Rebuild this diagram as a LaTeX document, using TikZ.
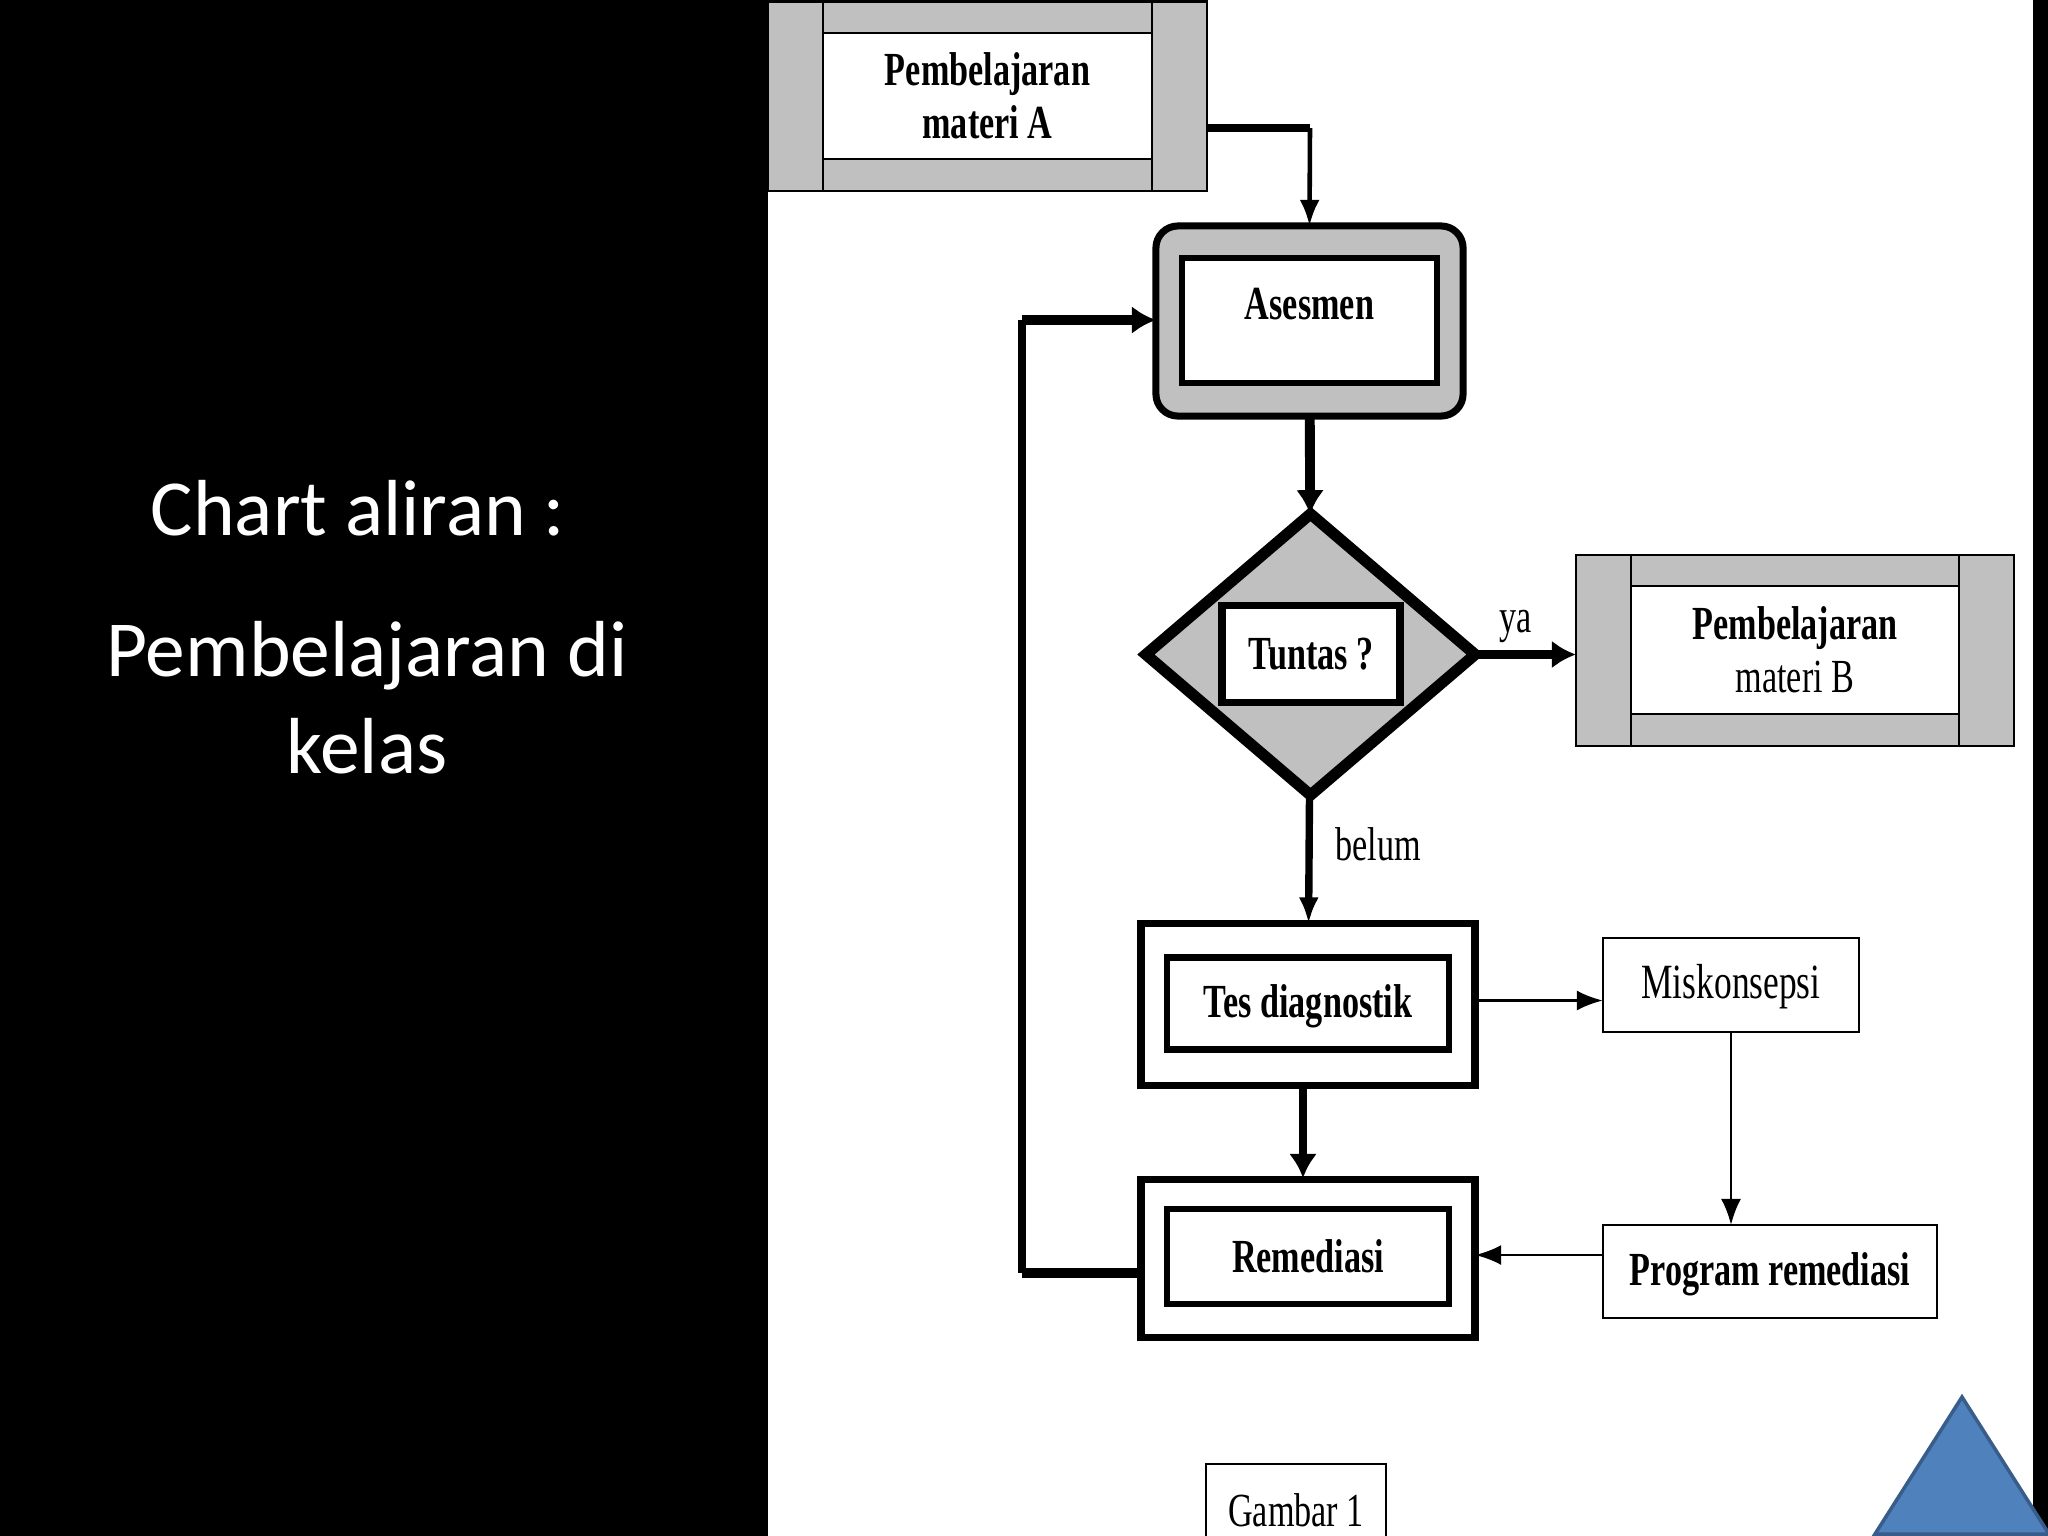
\documentclass[tikz,border=0pt]{standalone}
\usepackage{fontspec}
\setmainfont{Liberation Serif}[FakeStretch=0.72]
\newfontfamily\slidefont{Carlito}
\usetikzlibrary{arrows.meta,positioning,shapes.geometric}
\definecolor{panelgrey}{HTML}{C0C0C0}
\definecolor{triblue}{HTML}{4F81BD}
\definecolor{triedge}{HTML}{385D8A}
\newcommand{\figsize}{\fontsize{13.5}{15}\selectfont}

\begin{document}
\begin{tikzpicture}[x=0.01cm,y=-0.01cm,>={Latex[length=26*0.285pt,width=20*0.285pt]}]
	\tikzset{outerbox/.style={draw=black,fill=panelgrey,line width=0.6pt,inner sep=0pt,outer sep=0pt}}
	\tikzset{whitebox/.style={draw=black,fill=white,inner sep=0pt,outer sep=0pt,align=center,font=\figsize\bfseries}}
	\tikzset{framebox/.style={draw=black,fill=white,line width=2.2pt,outer sep=0pt}}
	\tikzset{plainbox/.style={draw=black,fill=white,line width=0.6pt,inner sep=0pt,outer sep=0pt,font=\figsize}}
	\tikzset{heavyline/.style={line width=2.8pt}}
	\tikzset{midline/.style={line width=2.1pt}}
	\tikzset{thinline/.style={line width=0.8pt}}
	\tikzset{bighead/.style={-{Latex[length=24*0.285pt,width=28*0.285pt]}}}
	\tikzset{slidetext/.style={text=white,font=\slidefont\fontsize{22.6}{27}\selectfont,inner sep=0pt}}
	\useasboundingbox (0,0) rectangle (2048,1536);
	\fill[white] (0,0) rectangle (2048,1536);
	\fill[black] (0,0) rectangle (768,1536);
	\fill[black] (2033,0) rectangle (2048,1536);
	% left side
	\node[slidetext] (chart) at (358,508) {Chart aliran :};
	\node[slidetext] (kelas1) at (367,656) {Pembelajaran di};
	\node[slidetext] (kelas2) at (367,746) {kelas};
	% materi A
	\node[outerbox,minimum width=4.39cm,minimum height=1.89cm] (matAOut) at (987.5,96) {};
	\node[whitebox,line width=0.7pt,minimum width=3.29cm,minimum height=1.26cm] (matA) at (987.5,96) {Pembelajaran\\materi A};
	\draw[thinline,line width=0.6pt] (matA.west |- matAOut.north) -- (matA.west |- matAOut.south);
	\draw[thinline,line width=0.6pt] (matA.east |- matAOut.north) -- (matA.east |- matAOut.south);
	% asesmen
	\node[outerbox,line width=2pt,rounded corners=0.22cm,minimum width=3.07cm,minimum height=1.90cm] (ases) at (1309.5,321) {};
	\node[whitebox,line width=1.8pt,minimum width=2.55cm,minimum height=1.25cm,text depth=9.5pt] (asesIn) at (1309.5,320.5) {Asesmen};
	% keputusan
	\node[diamond,outerbox,line width=3.2pt,minimum width=3.29cm,minimum height=2.81cm] (dec) at (1310.5,654.5) {};
	\node[whitebox,line width=2.2pt,minimum width=1.78cm,minimum height=0.97cm] (decIn) at (1311,654) {Tuntas ?};
	% materi B
	\node[outerbox,minimum width=4.38cm,minimum height=1.91cm] (matBOut) at (1795,650.5) {};
	\node[whitebox,line width=0.7pt,minimum width=3.28cm,minimum height=1.28cm] (matB) at (1795,650) {\fontsize{13.5}{14.2}\selectfont Pembelajaran\\{\normalfont materi B}};
	\draw[thinline,line width=0.6pt] (matB.west |- matBOut.north) -- (matB.west |- matBOut.south);
	\draw[thinline,line width=0.6pt] (matB.east |- matBOut.north) -- (matB.east |- matBOut.south);
	% tes diagnostik
	\node[framebox,minimum width=3.34cm,minimum height=1.62cm] (tes) at (1308,1004.5) {};
	\node[whitebox,line width=1.8pt,minimum width=2.82cm,minimum height=0.92cm,text height=10.7pt] (tesIn) at (1308,1003.5) {Tes diagnostik};
	% remediasi
	\node[framebox,minimum width=3.34cm,minimum height=1.58cm] (rem) at (1308,1258.5) {};
	\node[whitebox,line width=1.8pt,minimum width=2.82cm,minimum height=0.95cm] (remIn) at (1308,1256.5) {Remediasi};
	% kotak kanan
	\node[plainbox,minimum width=2.56cm,minimum height=0.94cm,text height=10.7pt,font=\fontsize{14}{15}\selectfont] (mis) at (1731,985) {Miskonsepsi};
	\node[plainbox,minimum width=3.34cm,minimum height=0.93cm,text height=10.7pt,font=\figsize\bfseries] (prog) at (1770,1271.5) {Program remediasi};
	\node[plainbox,minimum width=1.80cm,minimum height=0.92cm] (gambar) at (1296,1510) {Gambar 1};
	% label
	\node[font=\figsize,inner sep=0pt] (ya) at (1516,626) {ya};
	\node[font=\figsize,inner sep=0pt] (belum) at (1378,844) {belum};
	\coordinate (aOut) at (1207,128);
	\coordinate (aBend) at (1310,128);
	\coordinate (remOut) at (1139,1273);
	\coordinate (loopLow) at (1022,1273);
	\coordinate (loopTop) at (1022,320);
	\coordinate (tesOut) at (1303,1087);
	\coordinate (remTop) at (1303,1178);
	\coordinate (tesRight) at (1477,1000.5);
	\coordinate (progLeft) at (1603,1255);
	% panah
	\draw[midline] (aOut) -- (aBend);
	\draw[line width=1.3pt,->] (aBend) -- (ases.north);
	\draw[heavyline,bighead] (ases) -- (dec);
	\draw[heavyline,bighead] (dec) -- (dec -| matBOut.west);
	\draw[midline,->] (dec) -- (tes);
	\draw[midline,bighead] (tesOut) -- (remTop);
	\draw[thinline,->] (tesRight) -- (tesRight -| mis.west);
	\draw[thinline,->] (mis) -- (mis |- prog.north);
	\draw[thinline,->] (progLeft) -- (progLeft -| rem.east);
	\draw[heavyline] (remOut) -- (loopLow);
	\draw[midline,line cap=square] (loopLow) -- (loopTop);
	\draw[heavyline,bighead] (loopTop) -- (loopTop -| ases.west);
	% segitiga
	\draw[triedge,fill=triblue,line width=1pt] (1962,1397) -- (2049,1534) -- (1875,1534) -- cycle;
\end{tikzpicture}
\end{document}
